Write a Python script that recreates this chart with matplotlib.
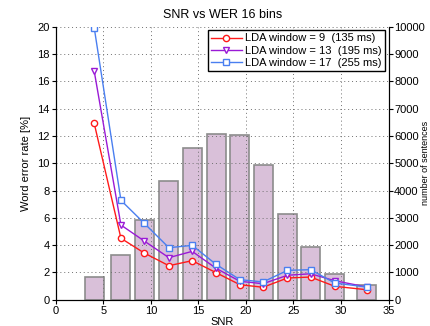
import matplotlib
matplotlib.use("Agg")
import matplotlib.pyplot as plt

plt.rcParams['font.family'] = ['Liberation Sans', 'DejaVu Sans']

# SNR bin centres
snr = [4.05, 6.86, 9.31, 11.9, 14.35, 16.86, 19.36, 21.8, 24.37, 26.8, 29.34, 32.7]
# number of sentences per bin
counts = [830, 1626, 2908, 4337, 5550, 6059, 6033, 4945, 3139, 1919, 941, 549]

# word error rate [%] per LDA window
wer_9 = [12.92, 4.5, 3.42, 2.49, 2.86, 1.98, 1.1, 0.91, 1.59, 1.66, 0.98, 0.73]
wer_13 = [16.75, 5.47, 4.3, 3.08, 3.54, 2.3, 1.35, 1.17, 1.79, 1.9, 1.39, 0.93]
wer_17 = [19.93, 7.28, 5.6, 3.81, 3.98, 2.59, 1.47, 1.3, 2.15, 2.2, 1.22, 0.93]

labels = ["LDA window = 9  (135 ms)", "LDA window = 13  (195 ms)", "LDA window = 17  (255 ms)"]
colors = ["#ff1a1a", "#9a1ad6", "#4a7ff0"]
markers = ["o", "v", "s"]

fig = plt.figure(figsize=(4.3, 3.26), dpi=100)
ax = fig.add_axes([0.1295, 0.0807, 0.7742, 0.8373])
ax2 = ax.twinx()
ax.set_zorder(ax2.get_zorder() + 1)
ax.patch.set_visible(False)

ax2.bar(snr, counts, width=2.0, color="#d9c0d9", edgecolor="#8c8c8c", linewidth=1.2)
ax2.set_ylim(0, 10000)
ax2.set_yticks(range(0, 10001, 1000))
ax2.set_ylabel("number of sentences", fontsize=6.5)
ax2.yaxis.set_label_coords(1.096, 0.5)

for y, lab, c, m in zip([wer_9, wer_13, wer_17], labels, colors, markers):
    ax.plot(snr, y, color=c, marker=m, markersize=4.5, markerfacecolor="white",
            markeredgecolor=c, linewidth=1.0, label=lab)

ax.set_xlim(0, 35)
ax.set_ylim(0, 20)
ax.set_xticks(range(0, 36, 5))
ax.set_yticks(range(0, 21, 2))
ax.grid(True, linestyle=(0, (1, 3)), color="#707070", linewidth=0.7)
ax.set_xlabel("SNR", fontsize=8, labelpad=1)
ax.set_ylabel("Word error rate [%]", fontsize=8)
ax.set_title("SNR vs WER 16 bins", fontsize=9, pad=6)

for a in (ax, ax2):
    a.spines['top'].set_visible(False)
    a.tick_params(labelsize=8, length=3, width=0.8, pad=1.5)
ax2.tick_params(pad=1)

leg = ax.legend(loc="upper right", fontsize=8, fancybox=False, edgecolor="black",
                framealpha=1, borderpad=0.3, labelspacing=0.2, handlelength=2.8,
                handletextpad=0.3, borderaxespad=0.3)
leg.get_frame().set_linewidth(1.0)

fig.savefig("out.png", dpi=100)
